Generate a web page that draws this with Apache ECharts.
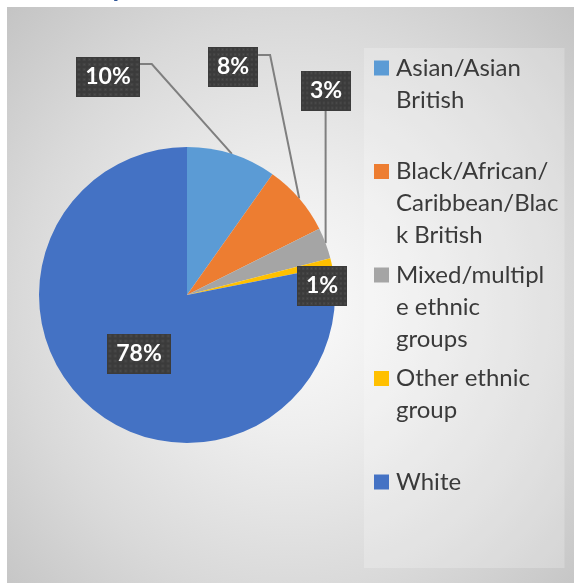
<!DOCTYPE html>
<html><head><meta charset="utf-8">
<script src="https://cdn.jsdelivr.net/npm/echarts@6/dist/echarts.min.js"></script>
<style>
html,body{margin:0;padding:0;background:#fff;overflow:hidden;}
#bg{position:absolute;left:7px;top:7px;width:567px;height:576px;
  background:radial-gradient(ellipse farthest-corner at 50% 52%, #fbfbfb 0%, #eeeeee 30%, #d9d9d9 68%, #c4c4c4 100%);}
#chart{position:absolute;left:0;top:0;width:574px;height:583px;}
</style></head><body>
<div id="bg"></div><div id="chart"></div>
<script>
// ---- data ----
const categories = ['Asian/Asian British', 'Black/African/Caribbean/Black British', 'Mixed/multiple ethnic groups', 'Other ethnic group', 'White'];
const values = [9.8, 7.8, 3.4, 0.9, 78.1];
const legendLines = [['Asian/Asian', 'British'], ['Black/African/', 'Caribbean/Blac', 'k British'], ['Mixed/multipl', 'e ethnic', 'groups'], ['Other ethnic', 'group'], ['White']];
const titleText = 'Ethnicity';

// ---- styles / layout ----
const colors = ['#5B9BD5', '#ED7D31', '#A5A5A5', '#FFC000', '#4472C4'];
const labelBoxes = [[108, 77], [233, 67], [326, 90.5], [322, 286], [139, 353.5]];
const FONT = 'Lato';

// dotted pattern for label boxes
const pc = document.createElement('canvas');
pc.width = 60; pc.height = 40;
const g = pc.getContext('2d');
g.fillStyle = '#3b3b3b'; g.fillRect(0, 0, 60, 40);
for (let x = 2; x < 60; x += 5) for (let y = 2; y < 40; y += 5) {
  g.fillStyle = '#434343'; g.fillRect(x - 1, y - 1, 3, 3);
  g.fillStyle = '#4f4f4f'; g.fillRect(x, y, 1, 1);
}

const rich = {
  t: { fontSize: 24, lineHeight: 32, height: 32, width: 158, color: '#3a3a3a', fontFamily: FONT },
  g: { width: 7, height: 15 },
  p: { width: 22, height: 15 }
};
colors.forEach((c, i) => { rich['s' + i] = { width: 15, height: 15, backgroundColor: c }; });

const chart = echarts.init(document.getElementById('chart'), null, { renderer: 'canvas' });
chart.setOption({
  backgroundColor: 'transparent',
  animation: false,
  title: {
    text: titleText, left: 15, top: -27, padding: 0,
    textStyle: { fontSize: 28, fontWeight: 'bold', color: '#2F5597', fontFamily: FONT }
  },
  legend: {
    orient: 'vertical', left: 364, top: 48, padding: [4, 6, 6, 5], itemGap: 7.5,
    itemWidth: 0, itemHeight: 0, selectedMode: false,
    backgroundColor: 'rgba(255,255,255,0.22)',
    data: categories,
    formatter: function (name) {
      const i = categories.indexOf(name);
      const lines = legendLines[i].slice();
      while (lines.length < 3) lines.push(' ');
      return lines.map((l, k) => k === 0 ? '{s' + i + '|}{g|}{t|' + l + '}' : '{p|}{t|' + l + '}').join('\n');
    },
    textStyle: { rich: rich, fontFamily: FONT }
  },
  series: [{
    type: 'pie', center: [187, 295], radius: 148, startAngle: 90, clockwise: true,
    avoidLabelOverlap: false, silent: true, emphasis: { disabled: true },
    data: categories.map((n, i) => ({ name: n, value: values[i], itemStyle: { color: colors[i] }, labelLine: { show: i < 3 } })),
    label: {
      show: true, position: 'outside',
      formatter: p => Math.round(p.percent) + '%',
      color: '#fff', fontSize: 23, fontWeight: 'bold', fontFamily: FONT, lineHeight: 23,
      padding: [9, 9, 8, 9],
      backgroundColor: { image: pc },
      shadowColor: 'rgba(0,0,0,0.45)', shadowBlur: 5, shadowOffsetX: 2, shadowOffsetY: 3
    },
    labelLine: { show: true, length: 10, length2: 10, lineStyle: { color: '#7F7F7F', width: 2 } },
    labelLayout: function (params) {
      const i = params.dataIndex;
      const cx = labelBoxes[i][0], cy = labelBoxes[i][1];
      const w = params.labelRect.width, h = params.labelRect.height;
      const out = { x: cx, y: cy, align: 'center', verticalAlign: 'middle' };
      const pts = params.labelLinePoints;
      if (pts && pts.length && i < 3) {
        const p0 = [pts[0][0], pts[0][1]];
        const right = cx + w / 2, top = cy - h / 2, bottom = cy + h / 2;
        if (i === 0) out.labelLinePoints = [p0, [right + 12, top + 7], [right, top + 7]];
        else if (i === 1) out.labelLinePoints = [p0, [right + 12, top + 8], [right, top + 8]];
        else out.labelLinePoints = [p0, [p0[0], (p0[1] + bottom) / 2], [p0[0], bottom]];
      }
      return out;
    }
  }]
});
</script>
</body></html>
